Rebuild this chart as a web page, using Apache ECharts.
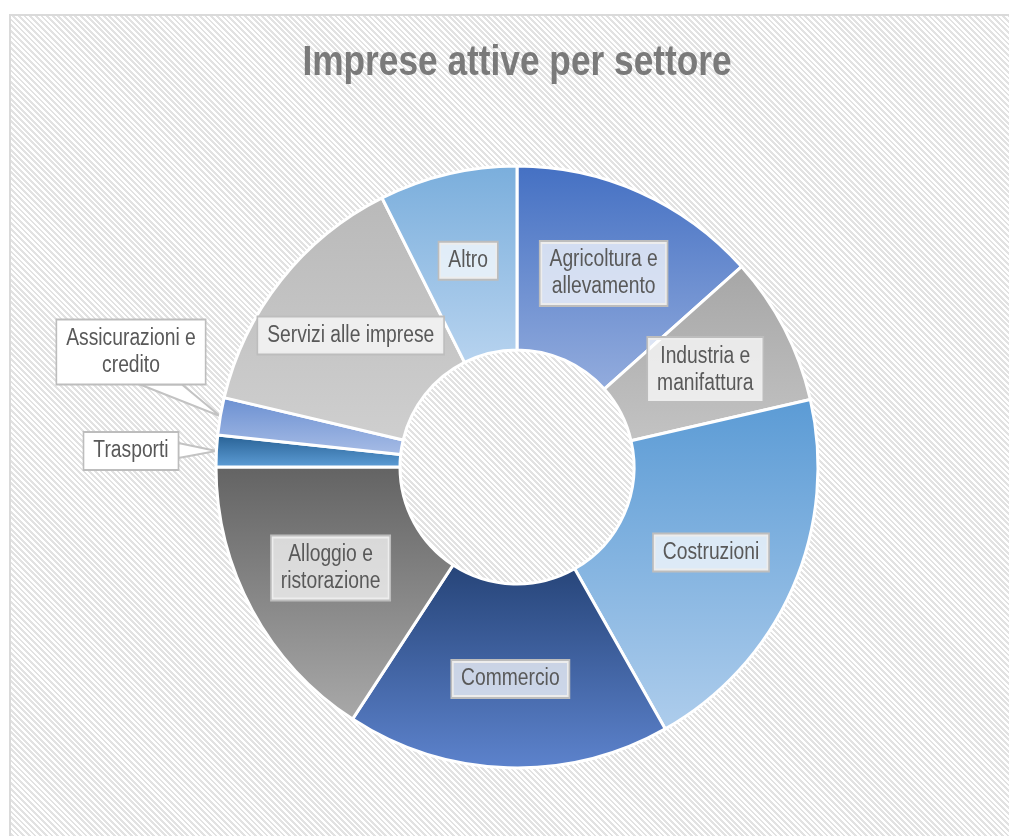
<!DOCTYPE html>
<html>
<head>
<meta charset="utf-8">
<script src="https://cdn.jsdelivr.net/npm/echarts@6/dist/echarts.min.js"></script>
<style>
  html, body { margin: 0; padding: 0; background: #ffffff; width: 1009px; height: 836px; overflow: hidden; }
  #frame {
    position: absolute; left: 9px; top: 14px; width: 1010px; height: 830px;
    box-sizing: border-box;
    border-left: 2px solid #dadada; border-top: 2px solid #dadada;
    background: repeating-linear-gradient(45deg, #ffffff 0px, #ffffff 2px, #e2e2e2 2px, #e2e2e2 4px);
  }
  #chart { position: absolute; left: 0; top: 0; width: 1009px; height: 836px; }
</style>
</head>
<body>
<div id="frame"></div>
<div id="chart"></div>
<script>
// Sectors, clockwise from twelve o'clock
var categories = [
  'Agricoltura e allevamento',
  'Industria e manifattura',
  'Costruzioni',
  'Commercio',
  'Alloggio e ristorazione',
  'Trasporti',
  'Assicurazioni e credito',
  'Servizi alle imprese',
  'Altro'
];
// Share of active firms (%)
var shares = [13.4, 8.0, 20.4, 17.4, 15.8, 1.7, 2.0, 13.9, 7.4];
// Label text as printed in the boxes
var labelText = [
  'Agricoltura e\nallevamento',
  'Industria e\nmanifattura',
  'Costruzioni',
  'Commercio',
  'Alloggio e\nristorazione',
  'Trasporti',
  'Assicurazioni e\ncredito',
  'Servizi alle imprese',
  'Altro'
];
// Top / bottom colour of each slice's vertical gradient
var gradTop = ['#4470c3', '#a6a6a6', '#5b9bd5', '#264478', '#636363', '#255e91', '#6a8fd1', '#b9b9b9', '#7aaedc'];
var gradBottom = ['#93acdd', '#c3c3c3', '#aecdec', '#5d83cd', '#a9a9a9', '#5f9fd8', '#a8bde6', '#cfcfcf', '#b7d3ef'];

// Callout boxes for the two thin slices: box centre, side the pointer leaves from,
// and where the pointer base sits along that side (offsets from the box centre)
var callouts = {
  5: { at: [131, 451], side: 'right', base: [-8, 7] },
  6: { at: [131, 352], side: 'bottom', base: [9, 51] }
};

// Condensed look: regular sans squeezed horizontally
var SQUEEZE = 0.82;
var FONT = "'Liberation Sans', Arial, sans-serif";
var LINE = '#c3c3c3';

var chart = echarts.init(document.getElementById('chart'), null, { renderer: 'canvas' });

var data = categories.map(function (name, i) {
  var item = {
    name: name,
    value: shares[i],
    itemStyle: {
      color: new echarts.graphic.LinearGradient(0, 0, 0, 1, [
        { offset: 0, color: gradTop[i] },
        { offset: 1, color: gradBottom[i] }
      ])
    }
  };
  if (callouts[i]) {
    item.label = { position: 'outside', backgroundColor: '#ffffff' };
  }
  return item;
});

var titleGraphic = {
  id: 'title',
  type: 'text',
  x: 517, y: 63,
  scaleX: SQUEEZE,
  style: {
    text: 'Imprese attive per settore',
    font: 'bold 43px ' + FONT,
    fill: '#7a7a7a',
    textAlign: 'center',
    textVerticalAlign: 'middle'
  }
};

chart.setOption({
  animation: false,
  graphic: [titleGraphic],
  series: [{
    type: 'pie',
    center: [517, 467],
    radius: [117, 301],
    startAngle: 90,
    clockwise: true,
    avoidLabelOverlap: false,
    itemStyle: { borderColor: '#ffffff', borderWidth: 3 },
    label: {
      show: true,
      position: 'inside',
      formatter: function (p) { return labelText[p.dataIndex]; },
      fontFamily: FONT,
      fontSize: 23.5,
      lineHeight: 27,
      color: '#595959',
      align: 'center',
      verticalAlign: 'middle',
      backgroundColor: 'rgba(255,255,255,0.72)',
      borderColor: '#bdbdbd',
      borderWidth: 2,
      padding: [5, 11, 4, 11]
    },
    labelLine: { show: false },
    labelLayout: function (p) {
      var c = callouts[p.dataIndex];
      if (c) {
        return { x: c.at[0], y: c.at[1], align: 'center', verticalAlign: 'middle' };
      }
      return {};
    },
    emphasis: { disabled: true },
    data: data
  }]
});

// Pointer wedges: from the callout box to the outer rim of the slice, at its mid angle
var seriesData = chart.getModel().getSeriesByIndex(0).getData();
var wedges = [];
Object.keys(callouts).forEach(function (k) {
  var idx = +k;
  var c = callouts[idx];
  var lay = seriesData.getItemLayout(idx);
  var mid = (lay.startAngle + lay.endAngle) / 2;
  var tip = [lay.cx + lay.r * Math.cos(mid), lay.cy + lay.r * Math.sin(mid)];
  var label = seriesData.getItemGraphicEl(idx).getTextContent();
  var rect = label.getBoundingRect();
  var halfW = rect.width * SQUEEZE / 2;
  var halfH = rect.height / 2;
  var pts;
  if (c.side === 'right') {
    pts = [[c.at[0] + halfW - 1, c.at[1] + c.base[0]], tip, [c.at[0] + halfW - 1, c.at[1] + c.base[1]]];
  } else {
    pts = [[c.at[0] + c.base[0], c.at[1] + halfH - 1], tip, [c.at[0] + c.base[1], c.at[1] + halfH - 1]];
  }
  wedges.push({
    type: 'polygon',
    z: 1,
    shape: { points: pts },
    style: { fill: '#ffffff', stroke: LINE, lineWidth: 2 }
  });
});
chart.setOption({ graphic: [titleGraphic].concat(wedges) }, { replaceMerge: ['graphic'] });

// Squeeze every slice label around its own anchor
function squeezeLabels() {
  var d = chart.getModel().getSeriesByIndex(0).getData();
  d.each(function (i) {
    var el = d.getItemGraphicEl(i);
    var t = el && el.getTextContent();
    if (t) { t.scaleX = SQUEEZE; t.markRedraw(); }
  });
  chart.getZr().refresh();
}
squeezeLabels();
</script>
</body>
</html>
